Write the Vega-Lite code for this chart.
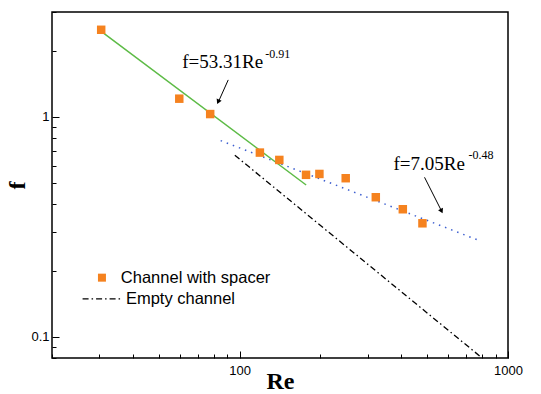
{
  "$schema": "https://vega.github.io/schema/vega-lite/v6.json",
  "autosize": "none",
  "padding": {"left": 52, "top": 12, "right": 33, "bottom": 36},
  "width": 456,
  "height": 346,
  "background": "white",
  "config": {
    "view": {"stroke": "black", "strokeWidth": 1.5},
    "axis": {
      "grid": false,
      "domain": false,
      "tickColor": "black",
      "tickWidth": 1,
      "labelFont": "Liberation Sans",
      "labelFontSize": 13,
      "labelColor": "black",
      "labelFlush": false,
      "titleFont": "Liberation Serif",
      "titleFontWeight": "bold",
      "titleFontSize": 24,
      "titleColor": "black"
    }
  },
  "datasets": {
    "spacer": [
      {"Re": 30.5, "f": 2.49},
      {"Re": 59.6, "f": 1.21},
      {"Re": 77.7, "f": 1.03},
      {"Re": 119, "f": 0.688},
      {"Re": 140.6, "f": 0.637},
      {"Re": 176.8, "f": 0.545},
      {"Re": 198.3, "f": 0.55},
      {"Re": 248.5, "f": 0.526},
      {"Re": 321.7, "f": 0.431},
      {"Re": 405.6, "f": 0.38},
      {"Re": 480, "f": 0.328}
    ],
    "fit1": [{"Re": 30.5, "f": 2.45}, {"Re": 177, "f": 0.49}],
    "fit2": [{"Re": 85, "f": 0.78}, {"Re": 780, "f": 0.274}],
    "empty": [{"Re": 96, "f": 0.669}, {"Re": 791, "f": 0.081}],
    "arrows": [
      {"Re": 90.7, "f": 1.473, "Re2": 83.6, "f2": 1.18},
      {"Re": 488.7, "f": 0.531, "Re2": 563, "f2": 0.377}
    ],
    "heads1": [{"Re": 83.2, "f": 1.17}],
    "heads2": [{"Re": 565.6, "f": 0.373}],
    "eqs": [
      {"Re": 61.1, "f": 1.671, "label": "f=53.31Re"},
      {"Re": 374.5, "f": 0.574, "label": "f=7.05Re"}
    ],
    "sups": [
      {"Re": 124.7, "f": 1.856, "label": "-0.91"},
      {"Re": 713, "f": 0.644, "label": "-0.48"}
    ],
    "legSym": [{"Re": 30.7, "f": 0.1856}],
    "legLine": [{"Re": 26.0, "f": 0.1485}, {"Re": 35.9, "f": 0.1485}],
    "legText": [
      {"Re": 36.1, "f": 0.1856, "label": "Channel with spacer"},
      {"Re": 37.7, "f": 0.1485, "label": "Empty channel"}
    ]
  },
  "encoding": {
    "x": {
      "field": "Re",
      "type": "quantitative",
      "scale": {"type": "log", "domain": [20, 1000], "nice": false},
      "axis": {
        "title": "Re",
        "values": [20, 30, 40, 50, 60, 70, 80, 90, 100, 200, 300, 400, 500, 600, 700, 800, 900, 1000],
        "format": "d",
        "labelExpr": "datum.value == 100 || datum.value == 1000 ? datum.label : ''",
        "tickSize": {"condition": {"test": "datum.value == 100 || datum.value == 1000", "value": -7}, "value": -4},
        "labelPadding": 13,
        "titlePadding": -8
      }
    },
    "y": {
      "field": "f",
      "type": "quantitative",
      "scale": {"type": "log", "domain": [0.08, 3], "nice": false},
      "axis": {
        "title": "f",
        "values": [0.08, 0.09, 0.1, 0.2, 0.3, 0.4, 0.5, 0.6, 0.7, 0.8, 0.9, 1, 2, 3],
        "labelExpr": "datum.value == 1 ? '1' : (datum.value == 0.1 ? '0.1' : '')",
        "tickSize": {"condition": {"test": "datum.value == 1 || datum.value == 0.1", "value": -7}, "value": -4},
        "labelPadding": 10,
        "titlePadding": 1
      }
    }
  },
  "layer": [
    {"data": {"name": "fit1"}, "mark": {"type": "line", "color": "#5dbb46", "strokeWidth": 1.5}, "encoding": {}},
    {"data": {"name": "fit2"}, "mark": {"type": "line", "color": "#3d5fd0", "strokeWidth": 1.5, "strokeDash": [1.5, 5]}, "encoding": {}},
    {"data": {"name": "empty"}, "mark": {"type": "line", "color": "black", "strokeWidth": 1.3, "strokeDash": [6, 3, 1.5, 3]}, "encoding": {}},
    {"data": {"name": "spacer"}, "mark": {"type": "square", "color": "#f5821f", "opacity": 1, "size": 72}},
    {"data": {"name": "arrows"}, "mark": {"type": "rule", "color": "black", "strokeWidth": 1}, "encoding": {"x2": {"field": "Re2"}, "y2": {"field": "f2"}}},
    {"data": {"name": "heads1"}, "mark": {"type": "point", "shape": "triangle-up", "filled": true, "color": "black", "opacity": 1, "size": 30, "angle": 204.5}},
    {"data": {"name": "heads2"}, "mark": {"type": "point", "shape": "triangle-up", "filled": true, "color": "black", "opacity": 1, "size": 30, "angle": 153.3}},
    {"data": {"name": "eqs"}, "mark": {"type": "text", "font": "Liberation Serif", "fontSize": 19, "align": "left", "baseline": "alphabetic", "color": "black"}, "encoding": {"text": {"field": "label"}}},
    {"data": {"name": "sups"}, "mark": {"type": "text", "font": "Liberation Serif", "fontSize": 12, "align": "left", "baseline": "alphabetic", "color": "black"}, "encoding": {"text": {"field": "label"}}},
    {"data": {"name": "legSym"}, "mark": {"type": "square", "color": "#f5821f", "opacity": 1, "size": 64}},
    {"data": {"name": "legLine"}, "mark": {"type": "line", "color": "black", "strokeWidth": 1.3, "strokeDash": [6, 3, 1.5, 3]}, "encoding": {}},
    {"data": {"name": "legText"}, "mark": {"type": "text", "font": "Liberation Sans", "fontSize": 16.5, "align": "left", "baseline": "middle", "color": "black"}, "encoding": {"text": {"field": "label"}}}
  ]
}
